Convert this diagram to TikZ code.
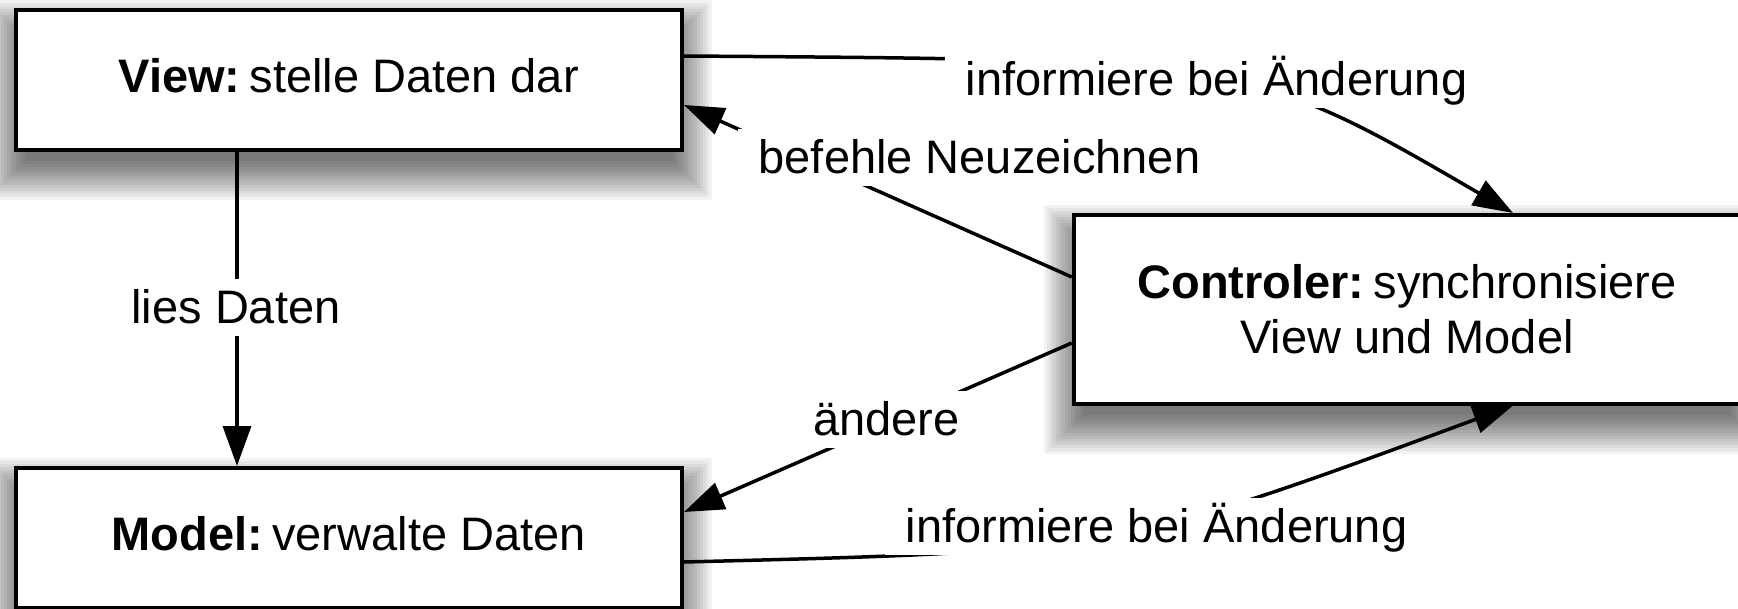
\documentclass[tikz,border=0pt]{standalone}
\usepackage{fontspec}
\setmainfont{Liberation Sans}
\usetikzlibrary{arrows.meta}
\pgfdeclarelayer{shadowlayer}
\pgfsetlayers{shadowlayer,main}

\tikzset{
  big/.style={font=\fontsize{47pt}{55pt}\selectfont},
  classbox/.style={draw=black, line width=4pt, fill=white, inner sep=0pt, big},
  flow/.style={line width=3.5pt, -{Triangle[length=40pt,width=28pt]}},
  tag/.style={fill=white, inner xsep=21pt, inner ysep=2pt,
              text height=42pt, text depth=11pt, big, anchor=base},
}

% soft drop shadow built from stacked translucent rectangles
\newcommand\castshadow[1]{%
  \begin{pgfonlayer}{shadowlayer}
    \foreach \k in {1,...,14}{
      \pgfmathsetmacro\gx{3*\k-14}
      \pgfmathsetmacro\nx{14-3*\k}
      \pgfmathsetmacro\ty{34-3*\k}
      \pgfmathsetmacro\by{6+3*\k}
      \fill[black, fill opacity=0.05]
        ([shift={(\nx,\ty)}]#1.north west) rectangle
        ([shift={(\gx,\by)}]#1.south east);
    }
  \end{pgfonlayer}}

\begin{document}
\begin{tikzpicture}[x=1pt,y=-1pt]
  \useasboundingbox (0,0) rectangle (1738,608);
  \clip (0,0) rectangle (1738,608);

  % the three components
  \node[classbox, minimum width=666.5pt, minimum height=140.5pt,
        text height=36pt, text depth=11pt] (view) at (348.75,79.75)
        {\textbf{View:}\hspace{9pt}stelle Daten dar};
  \node[classbox, minimum width=666.5pt, minimum height=140pt,
        text height=36pt, text depth=11pt] (model) at (348.75,538)
        {\textbf{Model:}\hspace{9pt}verwalte Daten};
  \node[classbox, minimum width=666.5pt, minimum height=188.5pt,
        align=center] (ctrl) at (1407,309.25)
        {\textbf{Controler:}\hspace{9pt}synchronisiere\\View und Model};

  \castshadow{view}
  \castshadow{model}
  \castshadow{ctrl}

  % connectors
  \draw[flow] (view.south -| 237,0) -- (model.north -| 237,0);
  \draw[flow] (view.east |- 0,56) .. controls (1250,60) and (1250,60) .. (ctrl.north -| 1513,0);
  \draw[flow] (ctrl.west |- 0,277) -- (view.east |- 0,105);
  \draw[flow] (ctrl.west |- 0,343) -- (model.east |- 0,512);
  \draw[flow] (model.east |- 0,562) .. controls (1119,551) and (1119,551) .. (ctrl.south -| 1513,0);

  % connector labels
  \node[tag] (lread) at (236,323) {lies Daten};
  \node[tag] (lnotifytop) at (1216.5,95) {informiere bei Änderung};
  \node[tag] (lredraw) at (979.5,173) {befehle Neuzeichnen};
  \node[tag] (lchange) at (886.5,435) {ändere};
  \node[tag] (lnotifybot) at (1156.5,542) {informiere bei Änderung};
\end{tikzpicture}
\end{document}
